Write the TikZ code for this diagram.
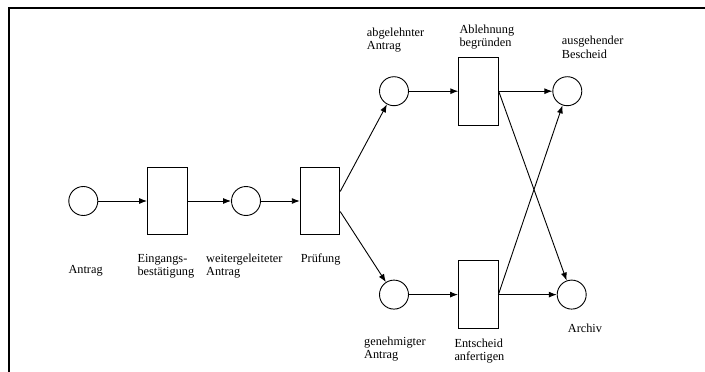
\documentclass[tikz,border=0pt]{standalone}
\usepackage{fontspec}
\setmainfont{Liberation Serif}
\usetikzlibrary{arrows.meta}
\begin{document}
\begin{tikzpicture}[x=1pt,y=-1pt,
  place/.style={circle,draw,line width=0.9pt,minimum size=29pt,inner sep=0pt},
  transition/.style={rectangle,draw,line width=0.9pt,minimum width=39.5pt,minimum height=67.5pt,inner sep=0pt},
  lbl/.style={anchor=base west,inner sep=0pt,align=left,font=\fontsize{12.3}{13.5}\selectfont},
  flow/.style={line width=0.9pt,-{Latex[length=8pt,width=6pt]}},
  frameline/.style={line width=2pt,line join=miter}]
\useasboundingbox (0,0) rectangle (705,372);

% frame (top and left edges)
\draw[frameline] (9,372) -- (9,8.3) -- (705,8.3);

% places
\node[place] (p1) at (83.3,201) {};
\node[place] (p2) at (246,201) {};
\node[place] (p3) at (394,91.2) {};
\node[place] (p4) at (567.3,91.2) {};
\node[place] (p5) at (394,294.6) {};
\node[place] (p6) at (571.7,294.6) {};

% transitions
\node[transition] (t1) at (167.3,201) {};
\node[transition] (t2) at (320,201) {};
\node[transition] (t3) at (478.5,91.2) {};
\node[transition] (t4) at (478.2,294.6) {};

% labels (two-line labels are placed by the baseline of their last line)
\node[lbl] (l1) at (68.3,273) {Antrag};
\node[lbl] (l2) at (137.3,275.5) {Eingangs-\\bestätigung};
\node[lbl] (l3) at (206,275.5) {weitergeleiteter\\Antrag};
\node[lbl] (l4) at (300.7,262.3) {Prüfung};
\node[lbl] (l5) at (366.7,49.8) {abgelehnter\\Antrag};
\node[lbl] (l6) at (459.3,46.5) {Ablehnung\\begründen};
\node[lbl] (l7) at (561.7,58) {ausgehender\\Bescheid};
\node[lbl] (l8) at (364,358.5) {genehmigter\\Antrag};
\node[lbl] (l9) at (454.3,360.8) {Entscheid\\anfertigen};
\node[lbl] (l10) at (567.7,332) {Archiv};

% arcs
\draw[flow] (p1) -- (t1);
\draw[flow] (t1) -- (p2);
\draw[flow] (p2) -- (t2);
\draw[flow] ([yshift=9.5pt]t2.east) -- (p3);
\draw[flow] ([yshift=-10.5pt]t2.east) -- (p5);
\draw[flow] (p3) -- (t3);
\draw[flow] (p5) -- (t4);
\draw[flow] (t3) -- (p4);
\draw[flow] (t3.east) -- (p6);
\draw[flow] (t4) -- (p6);
\draw[flow] (t4.east) -- (p4);
\end{tikzpicture}
\end{document}
